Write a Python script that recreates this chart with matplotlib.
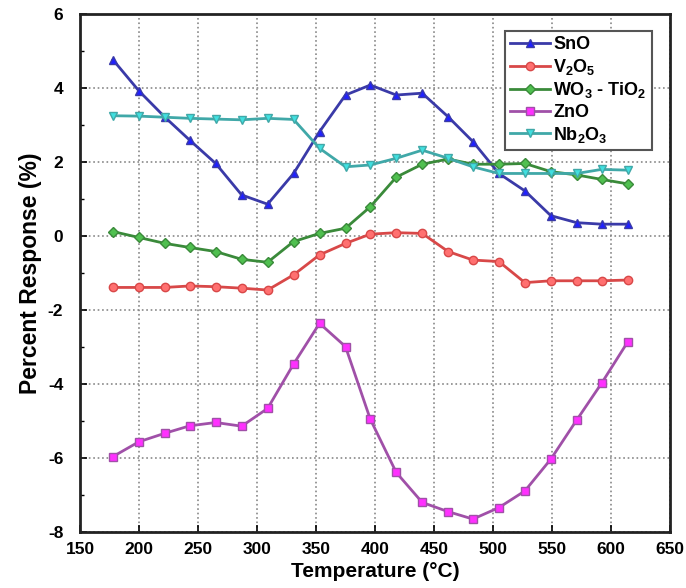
import matplotlib
matplotlib.use("Agg")
import matplotlib.pyplot as plt
from matplotlib.ticker import MultipleLocator

plt.rcParams['font.family'] = ['Liberation Sans', 'DejaVu Sans']
plt.rcParams['font.weight'] = 'bold'
plt.rcParams['mathtext.fontset'] = 'custom'
plt.rcParams['mathtext.bf'] = 'Liberation Sans:bold'
plt.rcParams['mathtext.rm'] = 'Liberation Sans:bold'
plt.rcParams['mathtext.default'] = 'bf'
plt.rcParams['axes.unicode_minus'] = False

temperature = [178, 200, 222, 243, 265, 287, 309, 331, 353, 375, 396,
               418, 440, 462, 483, 505, 527, 549, 571, 592, 614]

sno = [4.76, 3.92, 3.21, 2.59, 1.96, 1.11, 0.86, 1.69, 2.82, 3.81, 4.08,
       3.81, 3.86, 3.22, 2.55, 1.69, 1.22, 0.55, 0.36, 0.32, 0.32]
v2o5 = [-1.39, -1.39, -1.39, -1.35, -1.37, -1.41, -1.46, -1.05, -0.51, -0.20, 0.05,
        0.09, 0.07, -0.42, -0.65, -0.69, -1.26, -1.21, -1.21, -1.21, -1.19]
wo3_tio2 = [0.12, -0.04, -0.20, -0.31, -0.42, -0.63, -0.71, -0.15, 0.07, 0.21, 0.79,
            1.59, 1.94, 2.08, 1.94, 1.94, 1.96, 1.74, 1.65, 1.53, 1.41]
zno = [-5.96, -5.56, -5.33, -5.13, -5.04, -5.14, -4.66, -3.46, -2.36, -2.99, -4.95,
       -6.39, -7.20, -7.45, -7.65, -7.34, -6.89, -6.03, -4.97, -3.98, -2.87]
nb2o3 = [3.25, 3.24, 3.21, 3.18, 3.16, 3.14, 3.18, 3.15, 2.37, 1.87, 1.92,
         2.10, 2.32, 2.10, 1.87, 1.69, 1.69, 1.69, 1.69, 1.80, 1.78]

labels = ['SnO', 'V$_2$O$_5$', 'WO$_3$ - TiO$_2$', 'ZnO', 'Nb$_2$O$_3$']

fig = plt.figure(figsize=(6.86, 5.88), dpi=100)
ax = fig.add_axes([0.1166, 0.0952, 0.8601, 0.881])

styles = [
    (sno, '#3a3aa8', '^', '#2020ff'),
    (v2o5, '#d84848', 'o', '#ff7070'),
    (wo3_tio2, '#3a8a3a', 'D', '#50c050'),
    (zno, '#a050a8', 's', '#ff30ff'),
    (nb2o3, '#40a8a8', 'v', '#40e0e0'),
]
for (vals, lc, mk, mfc), lab in zip(styles, labels):
    ms = 6 if mk != 'D' else 5
    ax.plot(temperature, vals, color=lc, lw=2, marker=mk, ms=ms,
            markerfacecolor=mfc, markeredgecolor=lc, markeredgewidth=1, label=lab)

ax.set_xlim(150, 650)
ax.set_ylim(-8, 6)
ax.xaxis.set_major_locator(MultipleLocator(50))
ax.yaxis.set_major_locator(MultipleLocator(2))
ax.yaxis.set_minor_locator(MultipleLocator(1))
ax.grid(True, which='major', color='#888888', linestyle=':', linewidth=1.2)
ax.tick_params(axis='both', which='both', direction='in', labelsize=12.5)
ax.tick_params(axis='both', which='major', length=5, width=1.2)
ax.tick_params(axis='both', which='minor', length=3, width=1)
ax.tick_params(axis='y', which='major', pad=12)
ax.tick_params(axis='x', which='major', pad=7)
for lab in ax.get_xticklabels() + ax.get_yticklabels():
    lab.set_fontweight('bold')
for sp in ax.spines.values():
    sp.set_linewidth(2)
    sp.set_color('#222222')

ax.set_xlabel('Temperature (°C)', fontsize=15, fontweight='bold', labelpad=4)
ax.set_ylabel('Percent Response (%)', fontsize=16.5, fontweight='bold', labelpad=4)

leg = ax.legend(loc='upper right', bbox_to_anchor=(0.985, 0.985), fontsize=13,
                handlelength=2.2, handletextpad=0.2, labelspacing=0.2,
                borderpad=0.3, fancybox=False, framealpha=1, edgecolor='#555555')
leg.get_frame().set_linewidth(1.5)
for t in leg.get_texts():
    t.set_fontweight('bold')

fig.savefig('out.png', dpi=100)
